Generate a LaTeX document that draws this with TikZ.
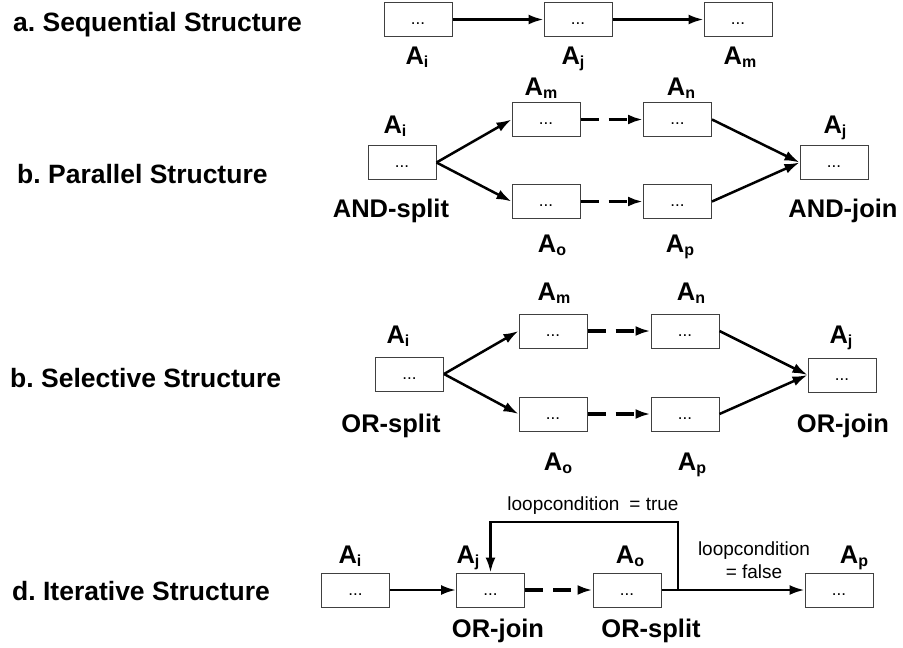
\documentclass[tikz,border=0pt]{standalone}
\usepackage{fontspec}
\setmainfont{Liberation Sans}
\usetikzlibrary{arrows.meta}
\frenchspacing
\tikzset{
  box/.style={draw=black!75, line width=1pt, minimum width=68pt, minimum height=34pt, inner sep=0pt, text height=10pt, text depth=0pt, font=\fontsize{17}{17}\selectfont},
  lbl/.style={font=\fontsize{25.5}{25.5}\selectfont\bfseries, inner sep=0pt, anchor=base},
  ttl/.style={font=\fontsize{26.5}{26.5}\selectfont\bfseries, inner sep=0pt, anchor=base west},
  cond/.style={font=\fontsize{19}{23}\selectfont, inner sep=0pt, align=center},
  arr/.style={line width=2.5pt, -{Latex[length=15pt,width=10pt]}},
  darr/.style={line width=3.5pt, dash pattern=on 18pt off 10pt, -{Latex[length=15pt,width=10pt]}},
}
\newcommand{\Asub}[1]{A\raisebox{-3pt}{\fontsize{16}{16}\selectfont #1}}
\begin{document}
\begin{tikzpicture}[x=1pt,y=-1pt]
\useasboundingbox (0,0) rectangle (903,648);
% titles
\node[ttl] (ta) at (13,31) {a. Sequential Structure};
\node[ttl] (tb) at (17,183) {b. Parallel Structure};
\node[ttl] (tc) at (10,387) {b. Selective Structure};
\node[ttl] (td) at (12,600) {d. Iterative Structure};
% row a
\node[box] (a1) at (418,19.5) {...};
\node[box] (a2) at (578,19.5) {...};
\node[box] (a3) at (738,19.5) {...};
\node[lbl] (la1) at (417,64) {\Asub{i}};
\node[lbl] (la2) at (573,64) {\Asub{j}};
\node[lbl] (la3) at (740,64) {\Asub{m}};
\draw[arr] (a1.east) -- (a2.west);
\draw[arr] (a2.east) -- (a3.west);
% row b
\node[box] (b1) at (402,162.5) {...};
\node[box] (b2) at (546,119.5) {...};
\node[box] (b3) at (677.5,119.5) {...};
\node[box] (b4) at (546,201.5) {...};
\node[box] (b5) at (677.5,201.5) {...};
\node[box] (b6) at (834,162.5) {...};
\node[lbl] (lb1) at (395,133) {\Asub{i}};
\node[lbl] (lb2) at (541,95) {\Asub{m}};
\node[lbl] (lb3) at (681,95) {\Asub{n}};
\node[lbl] (lb4) at (552,252) {\Asub{o}};
\node[lbl] (lb5) at (680,252) {\Asub{p}};
\node[lbl] (lb6) at (835,133) {\Asub{j}};
\node[lbl] (sb) at (391,217) {AND-split};
\node[lbl] (jb) at (843,217) {AND-join};
\draw[arr] (b1.east) -- (b2.west);
\draw[arr] (b1.east) -- (b4.west);
\draw[darr] (b2.east) -- (b3.west);
\draw[darr] (b4.east) -- (b5.west);
\draw[arr] (b3.east) -- (b6.west);
\draw[arr] (b5.east) -- (b6.west);
% row c
\node[box] (c1) at (409.5,374) {...};
\node[box] (c2) at (553,331) {...};
\node[box] (c3) at (685,331) {...};
\node[box] (c4) at (553,414) {...};
\node[box] (c5) at (685,414) {...};
\node[box] (c6) at (842,375) {...};
\node[lbl] (lc1) at (398,343) {\Asub{i}};
\node[lbl] (lc2) at (554,300) {\Asub{m}};
\node[lbl] (lc3) at (691,300) {\Asub{n}};
\node[lbl] (lc4) at (558,470) {\Asub{o}};
\node[lbl] (lc5) at (692,470) {\Asub{p}};
\node[lbl] (lc6) at (841,343) {\Asub{j}};
\node[lbl] (sc) at (391,432) {OR-split};
\node[lbl] (jc) at (843,432) {OR-join};
\draw[arr] (c1.east) -- (c2.west);
\draw[arr] (c1.east) -- (c4.west);
\draw[darr] (c2.east) -- (c3.west);
\draw[darr] (c4.east) -- (c5.west);
\draw[arr] (c3.east) -- (c6.west);
\draw[arr] (c5.east) -- (c6.west);
% row d
\node[box] (d1) at (355.5,590) {...};
\node[box] (d2) at (490.5,590) {...};
\node[box] (d3) at (627,590) {...};
\node[box] (d4) at (839,590) {...};
\node[lbl] (ld1) at (350,563) {\Asub{i}};
\node[lbl] (ld2) at (468,563) {\Asub{j}};
\node[lbl] (ld3) at (630,563) {\Asub{o}};
\node[lbl] (ld4) at (854,563) {\Asub{p}};
\node[lbl] (jd) at (498,637) {OR-join};
\node[lbl] (sd) at (651,637) {OR-split};
\node[cond, anchor=base] (ct) at (593,510) {loopcondition\hspace{0.25em} = true};
\node[cond, anchor=base] (cf) at (754,578) {loopcondition\\= false};
\coordinate (lp) at (678,590);
\coordinate (lt) at (678,522);
\draw[arr] (d1.east) -- (d2.west);
\draw[darr] (d2.east) -- (d3.west);
\draw[arr] (d3.east) -- (d4.west);
\draw[arr] (lp) -- (lt) -| (d2.north);
\end{tikzpicture}
\end{document}
